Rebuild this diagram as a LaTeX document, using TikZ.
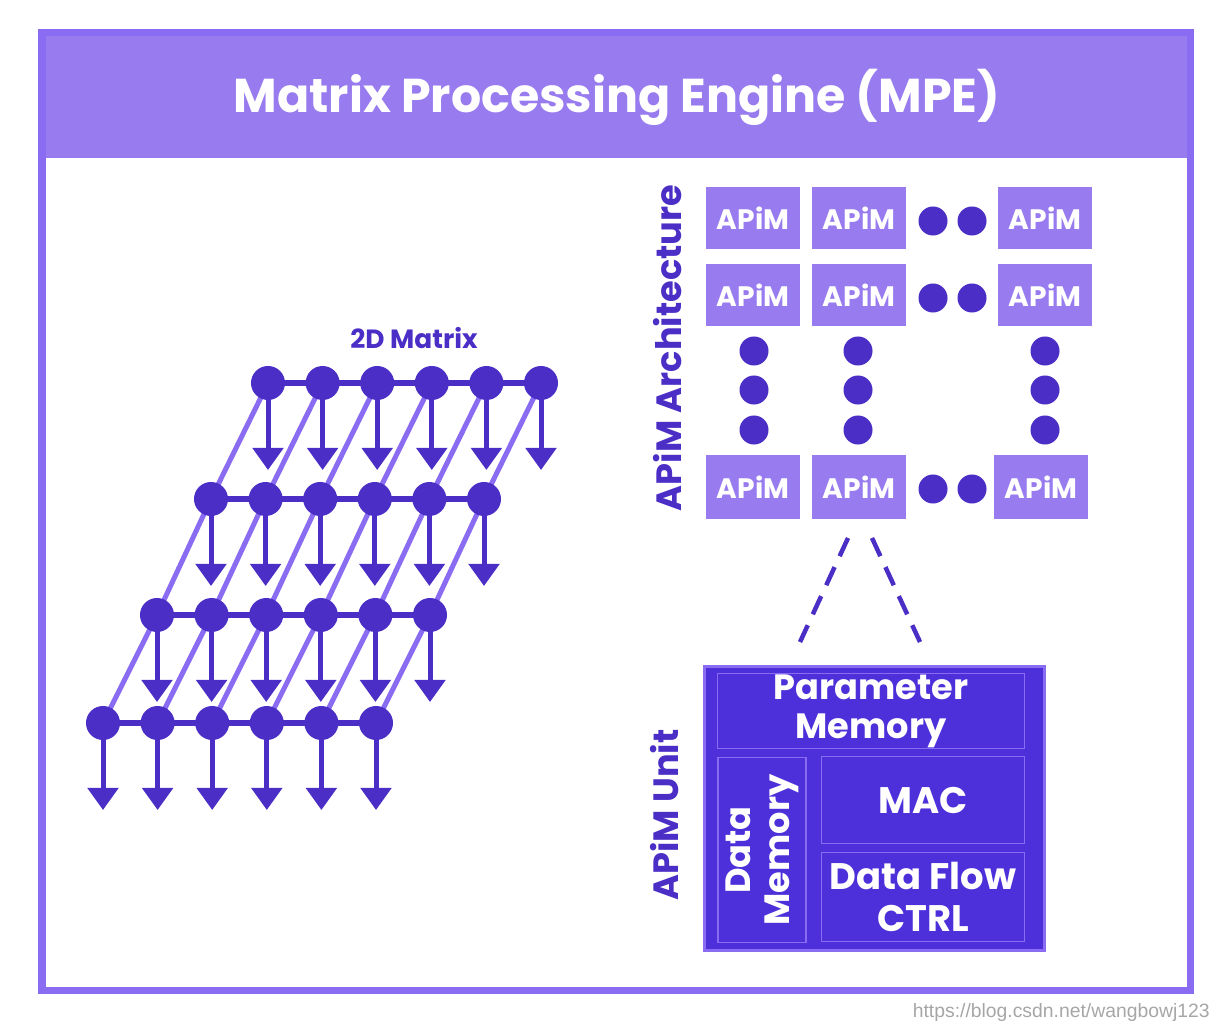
\documentclass[tikz,border=0pt]{standalone}
\usepackage{fontspec}
\setmainfont{Poppins}
\newfontfamily\wmfont{Liberation Sans}
\usetikzlibrary{arrows.meta}
\definecolor{lav}{HTML}{977BEF}
\definecolor{edge}{HTML}{8A6CF2}
\definecolor{ink}{HTML}{4A2EC6}
\definecolor{unit}{HTML}{4E30DA}
\tikzset{
  dot/.style={circle, fill=ink, inner sep=0pt, minimum size=0.34cm},
  sdot/.style={circle, fill=ink, inner sep=0pt, minimum size=0.29cm},
  apim/.style={rectangle, fill=lav, text=white, font=\bfseries\fontsize{8}{10}\selectfont, inner sep=0pt},
  cell/.style={draw=edge, line width=0.012cm, text=white, align=center, inner sep=0pt},
  link/.style={ink, line width=0.06cm},
  down/.style={ink, line width=0.05cm, -{Triangle[length=0.22cm, width=0.3cm]}},
  diag/.style={edge, line width=0.05cm},
}
\begin{document}
\begin{tikzpicture}[x=0.01cm, y=-0.01cm]
\useasboundingbox (0,0) rectangle (1228,1028);
% frame and header
\fill[lav] (42,33) rectangle (1190,158);
\draw[edge, line width=0.07cm] (42,33) rectangle (1190,990);
\node[text=white, font=\bfseries\fontsize{13.5}{16}\selectfont] (title) at (617,97) {Matrix Processing Engine (MPE)};

% 2D matrix
\node[text=ink, font=\bfseries\fontsize{7.5}{9}\selectfont] (lbl) at (414,338) {2D Matrix};
\foreach \r/\y/\x in {1/383/268, 2/499/211, 3/615/157, 4/723/103} {
  \foreach \c in {1,...,6} {
    \coordinate (m\r\c) at ({\x+(\c-1)*54.6},\y);
    \coordinate (e\r\c) at ({\x+(\c-1)*54.6},\y+87);
  }
}
\foreach \c in {1,...,6} {
  \draw[diag] (m1\c) -- (m2\c) -- (m3\c) -- (m4\c);
}
\foreach \r in {1,...,4} {
  \draw[link] (m\r1) -- (m\r6);
  \foreach \c in {1,...,6} {
    \draw[down] (m\r\c) -- (e\r\c);
    \node[dot] (n\r\c) at (m\r\c) {};
  }
}

% APiM architecture
\node[rotate=90, text=ink, font=\bfseries\fontsize{10}{12}\selectfont] (arch) at (668,348) {APiM Architecture};
\foreach \i/\y in {1/218, 2/295} {
  \node[apim, minimum width=0.93cm, minimum height=0.62cm] (a\i1) at (753,\y) {APiM};
  \node[apim, minimum width=0.94cm, minimum height=0.62cm] (a\i2) at (859,\y) {APiM};
  \node[apim, minimum width=0.94cm, minimum height=0.62cm] (a\i3) at (1045,\y) {APiM};
  \node[sdot] at (933,\y+3) {};
  \node[sdot] at (972,\y+3) {};
}
\node[apim, minimum width=0.93cm, minimum height=0.63cm] (a31) at (753,487) {APiM};
\node[apim, minimum width=0.94cm, minimum height=0.63cm] (a32) at (859,487) {APiM};
\node[apim, minimum width=0.93cm, minimum height=0.63cm] (a33) at (1041,487) {APiM};
\node[sdot] at (933,489) {};
\node[sdot] at (972,489) {};
\foreach \x in {754,858,1045} {
  \foreach \y in {351,390,430} { \node[sdot] at (\x,\y) {}; }
}

% zoom lines
\coordinate (z1) at (800,642);
\coordinate (z2) at (920,642);
\draw[ink, line width=0.045cm, dash pattern=on 0.2cm off 0.12cm] (848,538) -- (z1);
\draw[ink, line width=0.045cm, dash pattern=on 0.2cm off 0.12cm] (872,538) -- (z2);

% APiM unit
\node[rotate=90, text=ink, font=\bfseries\fontsize{10}{12}\selectfont] (ulbl) at (665,815) {APiM Unit};
\filldraw[fill=unit, draw=edge, line width=0.03cm] (704,666) rectangle (1044,950);
\node[cell, minimum width=3.07cm, minimum height=0.75cm, font=\bfseries\fontsize{10}{11}\selectfont] (pm) at (871,711) {Parameter\\Memory};
\node[cell, minimum width=0.88cm, minimum height=1.85cm] (dm) at (762,850) {};
\node[rotate=90, text=white, font=\bfseries\fontsize{10}{11}\selectfont, align=center] at (dm) {Data\\Memory};
\node[cell, minimum width=2.03cm, minimum height=0.87cm, font=\bfseries\fontsize{10.5}{12}\selectfont] (mac) at (923,800) {MAC};
\node[cell, minimum width=2.03cm, minimum height=0.89cm, font=\bfseries\fontsize{10.5}{12}\selectfont] (dfc) at (923,897) {Data Flow\\CTRL};

\node[text=black!35, font=\wmfont\fontsize{5.5}{7}\selectfont, anchor=east] (wm) at (1222,1012) {https://blog.csdn.net/wangbowj123};
\end{tikzpicture}
\end{document}
